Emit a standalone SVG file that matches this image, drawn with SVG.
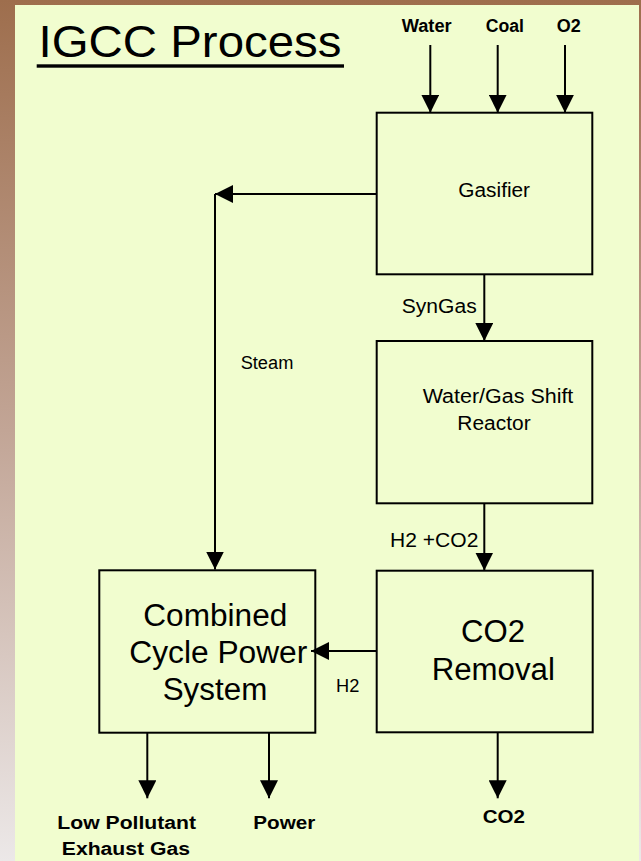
<svg xmlns="http://www.w3.org/2000/svg" width="641" height="861" viewBox="0 0 641 861">
<defs>
<linearGradient id="bg" x1="0" y1="0" x2="0" y2="1">
<stop offset="0" stop-color="#9E6E4D"/>
<stop offset="0.5" stop-color="#C2A596"/>
<stop offset="1" stop-color="#ECE8E8"/>
</linearGradient>
<marker id="ah" markerUnits="userSpaceOnUse" markerWidth="18" markerHeight="18" viewBox="0 0 16 16" refX="16" refY="8" orient="auto">
<path d="M0,0 L16,8 L0,16 Z" fill="#000"/>
</marker>
<style>
.box{fill:none;stroke:#000;stroke-width:2}
.ln{fill:none;stroke:#000;stroke-width:2;marker-end:url(#ah)}
.t{font-family:"Liberation Sans",Arial,sans-serif;fill:#000;text-anchor:middle}
.b{font-weight:bold;font-size:18px}
.m{font-size:20px}
.L{font-size:31px}
.s{font-size:18px}
</style>
</defs>
<rect x="0" y="0" width="641" height="861" fill="url(#bg)"/>
<rect x="15" y="5" width="624" height="856" fill="#F1FDCF"/>
<g id="title">
<text class="t" x="190" y="56.7" font-size="44" textLength="303" lengthAdjust="spacingAndGlyphs">IGCC Process</text>
<rect x="36.7" y="64.3" width="307.3" height="3.4" fill="#000"/>
</g>
<g id="connectors">
<line class="ln" x1="430.3" y1="45" x2="430.3" y2="112.7"/>
<line class="ln" x1="497.7" y1="45" x2="497.7" y2="112.7"/>
<line class="ln" x1="565" y1="45" x2="565" y2="112.7"/>
<line class="ln" x1="484.3" y1="274.3" x2="484.3" y2="341"/>
<line class="ln" x1="484.3" y1="503.3" x2="484.3" y2="570.5"/>
<line class="ln" x1="376.7" y1="194" x2="215" y2="194"/>
<line class="ln" x1="215" y1="194" x2="215" y2="569.5"/>
<line class="ln" x1="376.7" y1="651" x2="311" y2="651"/>
<line class="ln" x1="497.7" y1="732.3" x2="497.7" y2="798.3"/>
<line class="ln" x1="147.3" y1="732.7" x2="147.3" y2="798.3"/>
<line class="ln" x1="269" y1="732.7" x2="269" y2="798.3"/>
</g>
<g id="labels">
<text class="t b" x="426.7" y="32.3" textLength="50" lengthAdjust="spacingAndGlyphs">Water</text>
<text class="t b" x="504.8" y="32.3" textLength="38.3" lengthAdjust="spacingAndGlyphs">Coal</text>
<text class="t b" x="568.7" y="32.3" textLength="24" lengthAdjust="spacingAndGlyphs">O2</text>
<text class="t m" x="439.2" y="313.3" textLength="75" lengthAdjust="spacingAndGlyphs">SynGas</text>
<text class="t s" x="267" y="369" textLength="52.7" lengthAdjust="spacingAndGlyphs">Steam</text>
<text class="t m" x="434.2" y="546.7" textLength="88.3" lengthAdjust="spacingAndGlyphs">H2 +CO2</text>
<text class="t s" x="347.7" y="692.3" textLength="23.3" lengthAdjust="spacingAndGlyphs">H2</text>
<text class="t b" x="126.7" y="829" textLength="138.7" lengthAdjust="spacingAndGlyphs">Low Pollutant</text>
<text class="t b" x="125.9" y="855" textLength="128.3" lengthAdjust="spacingAndGlyphs">Exhaust Gas</text>
<text class="t b" x="284.3" y="829" textLength="62" lengthAdjust="spacingAndGlyphs">Power</text>
<text class="t b" x="503.8" y="822.7" textLength="42.3" lengthAdjust="spacingAndGlyphs">CO2</text>
</g>
<g id="gasifier">
<rect class="box" x="376.7" y="112.7" width="215.6" height="161.6"/>
<text class="t m" x="494.2" y="196.7" textLength="71.7" lengthAdjust="spacingAndGlyphs">Gasifier</text>
</g>
<g id="shift-reactor">
<rect class="box" x="376.7" y="341" width="215.6" height="162.3"/>
<text class="t m" x="498" y="402.7" textLength="150.7" lengthAdjust="spacingAndGlyphs">Water/Gas Shift</text>
<text class="t m" x="494" y="430" textLength="73.3" lengthAdjust="spacingAndGlyphs">Reactor</text>
</g>
<g id="co2-removal">
<rect class="box" x="376.7" y="570.7" width="216" height="161.6"/>
<text class="t L" x="493" y="642.3" textLength="64" lengthAdjust="spacingAndGlyphs">CO2</text>
<text class="t L" x="493.3" y="680" textLength="123.3" lengthAdjust="spacingAndGlyphs">Removal</text>
</g>
<g id="combined-cycle">
<rect class="box" x="99.3" y="570.3" width="216" height="162.4"/>
<text class="t L" x="215.3" y="625.7" textLength="144" lengthAdjust="spacingAndGlyphs">Combined</text>
<text class="t L" x="218.3" y="662.7" textLength="178" lengthAdjust="spacingAndGlyphs">Cycle Power</text>
<text class="t L" x="215" y="700" textLength="104.6" lengthAdjust="spacingAndGlyphs">System</text>
</g>
</svg>
